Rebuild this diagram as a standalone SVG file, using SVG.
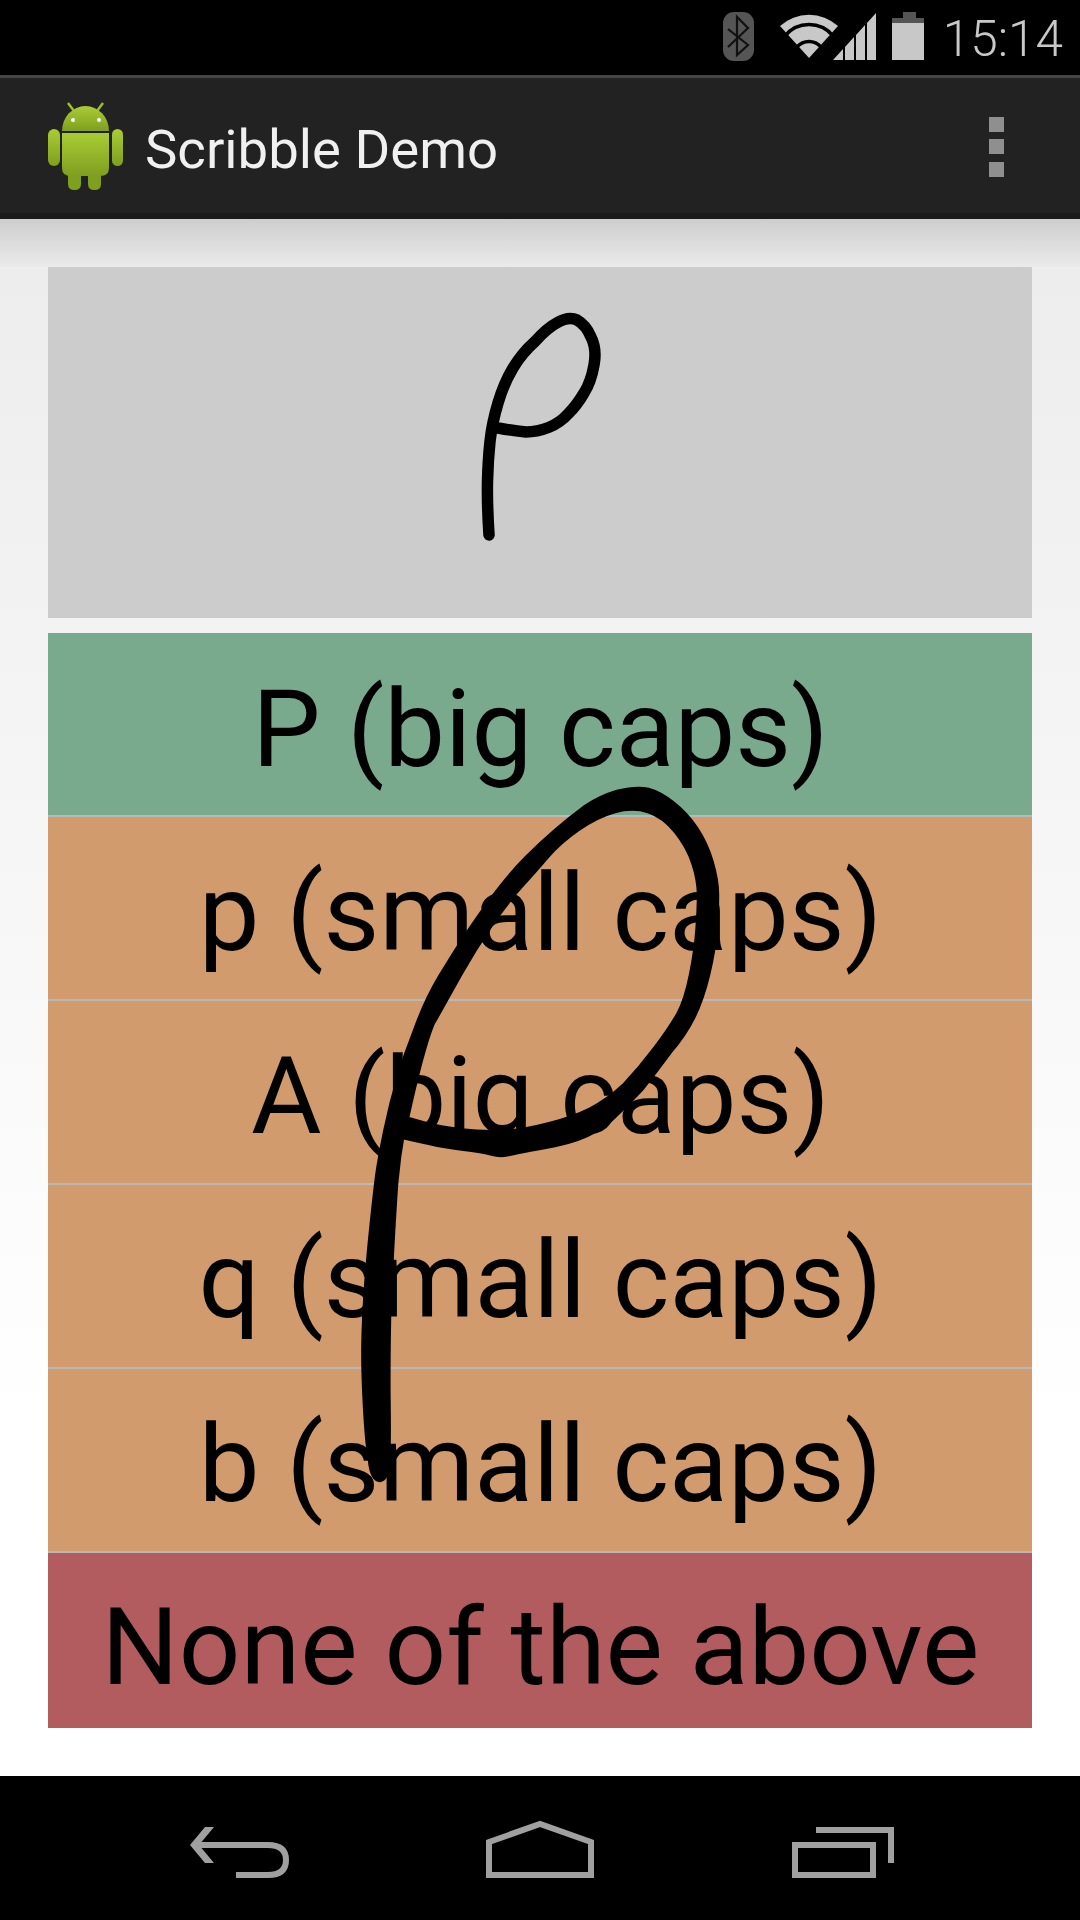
<svg xmlns="http://www.w3.org/2000/svg" width="1080" height="1920" viewBox="0 0 1080 1920">
<style>
.opt{font-family:Roboto,"Liberation Sans",sans-serif;font-size:108.2px;fill:#000;text-anchor:middle}
.sep{fill:#b9b9b9}
.nav{fill:none;stroke:#a0a0a0;stroke-width:6}
.grn{fill:url(#droid)}
</style>
<defs>
<linearGradient id="page" x1="0" y1="0" x2="0" y2="1"><stop offset="0" stop-color="#ececec"/><stop offset="0.15" stop-color="#f0f0f0"/><stop offset="0.78" stop-color="#ffffff"/></linearGradient>
<linearGradient id="shadow" x1="0" y1="0" x2="0" y2="1"><stop offset="0" stop-color="#000" stop-opacity="0.13"/><stop offset="1" stop-color="#000" stop-opacity="0.01"/></linearGradient>
<linearGradient id="droid" x1="0" y1="0" x2="0" y2="1"><stop offset="0" stop-color="#a9cc35"/><stop offset="1" stop-color="#7f9f1f"/></linearGradient>
</defs>
<g id="page-bg">
<rect x="0" y="219" width="1080" height="1557" fill="url(#page)"/>
<rect x="0" y="219" width="1080" height="48" fill="url(#shadow)"/>
</g>
<g id="status-bar">
<rect x="0" y="0" width="1080" height="75" fill="#000"/>
<rect x="723" y="12" width="31" height="49" rx="11" fill="#555"/>
<path d="M728,29 L748,45 L737,55 L737,17 L748,28 L728,47" fill="none" stroke="#111" stroke-width="2.2"/>
<path d="M809,58 L780,26 A43,43 0 0 1 838,26 Z" fill="#c8c8c8"/>
<path d="M785,36 A31,31 0 0 1 833,36 M797,47 A16,16 0 0 1 821,47" fill="none" stroke="#000" stroke-width="3.5"/>
<path d="M833,60 L843,49 V60 Z M845,47 L854,37 V60 H845 Z M856,35 L865,25 V60 H856 Z M867,23 L876,13 V60 H867 Z" fill="#c8c8c8"/>
<path d="M892,23 V18 H903 V12 H916 V18 H924 V23 Z" fill="#555"/>
<rect x="892" y="23" width="32" height="37" fill="#c8c8c8"/>
<text x="1063" y="56" font-family="Roboto,sans-serif" font-weight="300" font-size="49.5" fill="#c8c8c8" text-anchor="end">15:14</text>
</g>
<g id="action-bar">
<rect x="0" y="75" width="1080" height="144" fill="#222222"/>
<rect x="0" y="75" width="1080" height="3" fill="#444444"/>
<rect x="0" y="213" width="1080" height="6" fill="#1a1a1a"/>
<g id="android-icon">
<path d="M68,103 L74,111 M103,103 L97,111" stroke="#9dbf2c" stroke-width="2.5" fill="none"/>
<path d="M62,131 A23.5,25 0 0 1 109,131 Z" class="grn"/>
<circle cx="73" cy="120" r="2" fill="#fff"/><circle cx="99" cy="120" r="2" fill="#fff"/>
<path d="M62,133 H109 V168 Q109,176 100,176 H71 Q62,176 62,168 Z" class="grn"/>
<rect x="48" y="129" width="12" height="37" rx="6" class="grn"/>
<rect x="112" y="129" width="11" height="37" rx="5.5" class="grn"/>
<path d="M68,175 H81 V184 Q81,190 74.5,190 Q68,190 68,184 Z M88,175 H101 V184 Q101,190 94.5,190 Q88,190 88,184 Z" fill="#7f9f1f"/>
</g>
<text x="145" y="168" font-family="Roboto,sans-serif" font-size="54.5" fill="#f0f0f0">Scribble Demo</text>
<g id="overflow-menu" fill="#8f8f8f">
<rect x="989" y="117" width="15" height="15"/><rect x="989" y="139" width="15" height="15"/><rect x="989" y="162" width="15" height="15"/>
</g>
</g>
<g id="scribble-panel">
<rect x="48" y="267" width="984" height="351" fill="#cccccc"/>
<path d="M489,535 Q487,503 487.5,481.5 Q488,460 490,441.5 Q492,423 498,403 Q504,383 513,368 Q522,353 535,341.5 Q547,328 557.5,322.5 Q569,316 577,320 Q586,325 591,337 Q597,349 594,365 Q591,382 584,393 Q577,405 568.5,413.5 Q560,423 548.5,427.5 Q537,432 526,432 Q515,431 498,428" fill="none" stroke="#000" stroke-width="11.5" stroke-linecap="round" stroke-linejoin="round"/>
</g>
<g id="option-p-big"><rect x="48" y="633" width="984" height="182" fill="#7aaa8d"/><text class="opt" x="540.5" y="766">P (big caps)</text></g>
<g id="option-p-small"><rect x="48" y="815" width="984" height="184" fill="#d19b6d"/><text class="opt" x="540.5" y="950">p (small caps)</text></g>
<g id="option-a-big"><rect x="48" y="999" width="984" height="184" fill="#d19b6d"/><text class="opt" x="540.5" y="1133">A (big caps)</text></g>
<g id="option-q-small"><rect x="48" y="1183" width="984" height="184" fill="#d19b6d"/><text class="opt" x="540.5" y="1317">q (small caps)</text></g>
<g id="option-b-small"><rect x="48" y="1367" width="984" height="185" fill="#d19b6d"/><text class="opt" x="540.5" y="1501">b (small caps)</text></g>
<g id="option-none"><rect x="48" y="1552" width="984" height="176" fill="#b35c5f"/><text class="opt" x="540.5" y="1684">None of the above</text></g>
<g id="separators">
<rect class="sep" x="48" y="815" width="984" height="2"/>
<rect class="sep" x="48" y="999" width="984" height="2"/>
<rect class="sep" x="48" y="1183" width="984" height="2"/>
<rect class="sep" x="48" y="1367" width="984" height="2"/>
<rect class="sep" x="48" y="1551" width="984" height="2"/>
</g>
<g id="overlay-stroke">
<path fill="#000" stroke="#000" stroke-width="2.5" stroke-linejoin="round" fill-rule="evenodd" d="M369,1460 Q366,1443 364,1405.5 Q362,1368 362.5,1342.5 Q363,1317 365,1288.5 Q367,1260 371,1222 Q375,1184 377,1170.5 Q379,1157 384.5,1130 Q390,1103 397.5,1078 Q405,1053 415,1028 Q425,1000 440,975 Q455,950 471,926.5 Q487,903 500,886.5 Q513,870 526.5,856.5 Q540,843 555,830 Q570,817 585,806 Q600,796 617,791 Q637,786 648.5,789 Q660,792 673.5,802.5 Q687,813 697,828 Q707,843 712.5,861.5 Q718,880 718,895 Q718,910 716.5,930 Q715,950 709,975 Q703,1000 694,1018 Q685,1036 671,1052 Q657,1071 642,1090 Q625,1108 615,1117 Q605,1127 595,1132 Q580,1141 555,1146 Q517,1153 508.5,1155 Q500,1157 491.5,1154.5 Q483,1152 461.5,1149.5 Q440,1147 403,1138 L400,1157 L397,1184 Q392,1260 390,1317 Q389,1368 389.5,1405 Q390,1443 389,1462 Q388,1480 380,1481 Q371,1481 369,1460 Z M408,1118 L424,1122.5 Q440,1127 461.5,1129.5 Q483,1132 503,1131 Q523,1130 548,1123.5 Q573,1117 590,1108.5 Q607,1100 623,1085 Q640,1067 655,1047 Q670,1027 677.5,1013.5 Q685,1000 690,975 Q695,950 696.5,930 Q698,910 698,895 Q698,880 692.5,863.5 Q687,847 675,832 Q663,817 648,812 Q633,807 615,812 Q597,817 578.5,830 Q560,843 548.5,856.5 Q537,870 522,886.5 Q507,903 491,926.5 Q475,950 461,975 Q447,1000 433,1025 Q423,1050 408,1118 Z"/>
</g>
<g id="nav-bar">
<rect x="0" y="1776" width="1080" height="144" fill="#000"/>
<path fill="#a0a0a0" d="M205,1827 H214 L199,1845 L214,1863 H205 L190,1845 Z"/>
<path class="nav" d="M195,1845 H268 Q286,1845 286,1860 Q286,1875 268,1875 H236"/>
<path class="nav" d="M489,1875 V1842 L540,1824 L591,1842 V1875 Z"/>
<path class="nav" d="M795,1845 H873 V1875 H795 Z M816,1830 H891 V1863"/>
</g>
</svg>
